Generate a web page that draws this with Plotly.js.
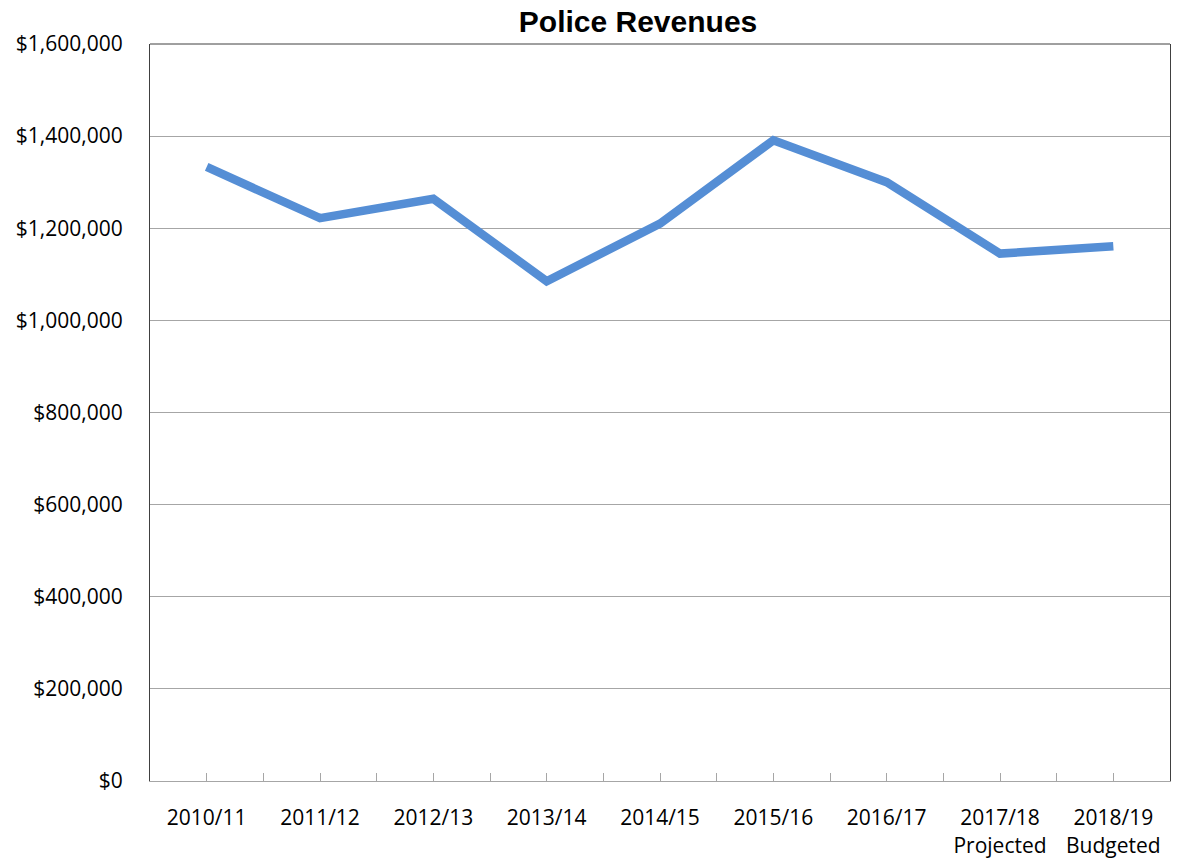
<!DOCTYPE html>
<html>
<head>
<meta charset="utf-8">
<script src="https://cdn.plot.ly/plotly-3.0.1.min.js"></script>
<style>html,body{margin:0;padding:0;background:#fff;}#chart{width:1180px;height:859px;}</style>
</head>
<body>
<div id="chart"></div>
<script>
const categories = ["2010/11", "2011/12", "2012/13", "2013/14", "2014/15", "2015/16", "2016/17", "2017/18<br>Projected", "2018/19<br>Budgeted"];
const revenues = [1333000, 1222000, 1264000, 1085000, 1210000, 1391000, 1300000, 1145000, 1161000];
const yTicks = [0, 200000, 400000, 600000, 800000, 1000000, 1200000, 1400000, 1600000];

const xIdx = categories.map((c, i) => i);
const tickFont = {family: "'Open Sans', sans-serif", size: 21, color: '#000'};

const trace = {
  x: xIdx,
  y: revenues,
  type: 'scatter',
  mode: 'lines',
  line: {color: '#558ed5', width: 8.5, shape: 'linear'},
  hoverinfo: 'y'
};

const layout = {
  width: 1180,
  height: 859,
  margin: {l: 150, r: 10, t: 44, b: 78},
  paper_bgcolor: '#fff',
  plot_bgcolor: '#fff',
  showlegend: false,
  title: {text: '<b>Police Revenues</b>', x: 0.5407, xanchor: 'center', y: 0.975, yanchor: 'middle',
          font: {family: 'Arial, Liberation Sans, sans-serif', size: 30, color: '#000'}},
  xaxis: {
    range: [-0.5, 8.5],
    tickmode: 'array',
    tickvals: xIdx,
    ticktext: categories,
    ticks: 'inside',
    ticklen: 8,
    tickcolor: '#a6a6a6',
    tickwidth: 1,
    minor: {tickmode: 'linear', tick0: -0.5, dtick: 1, ticks: 'inside', ticklen: 8, tickcolor: '#a6a6a6', showgrid: false},
    showgrid: false,
    zeroline: false,
    showline: true,
    linecolor: '#a6a6a6',
    linewidth: 1,
    tickfont: tickFont,
    ticklabelstandoff: 18,
    fixedrange: true
  },
  yaxis: {
    range: [0, 1600000],
    tickmode: 'array',
    tickvals: yTicks,
    tickformat: '$,.0f',
    showgrid: true,
    gridcolor: '#a6a6a6',
    gridwidth: 1,
    zeroline: false,
    showline: true,
    mirror: true,
    linecolor: '#404040',
    linewidth: 1,
    ticks: '',
    tickfont: tickFont,
    ticklabelstandoff: 22,
    fixedrange: true
  },
  shapes: [
    {type: 'line', xref: 'paper', yref: 'paper', x0: 0, x1: 1, y0: 1, y1: 1, line: {color: '#404040', width: 1}}
  ]
};

Plotly.newPlot('chart', [trace], layout, {displayModeBar: false, staticPlot: true});
</script>
</body>
</html>
